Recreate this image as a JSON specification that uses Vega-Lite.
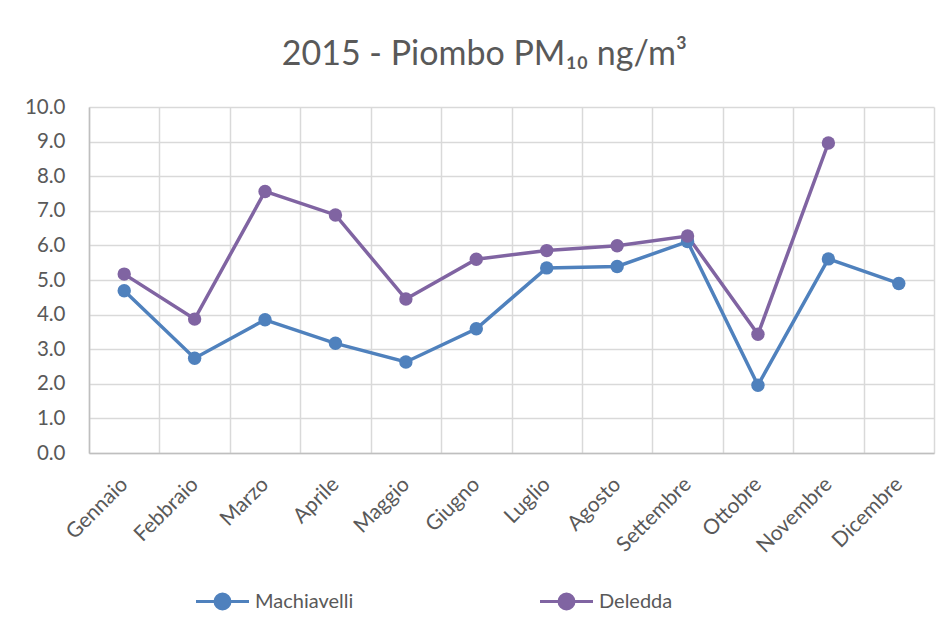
{
  "$schema": "https://vega.github.io/schema/vega-lite/v6.json",
  "autosize": {"type": "none"},
  "width": 845,
  "height": 346,
  "padding": {"left": 89, "top": 107, "right": 15, "bottom": 183},
  "background": "white",
  "title": {
    "text": "2015 - Piombo PM₁₀ ng/m³",
    "font": "Lato",
    "fontSize": 34,
    "fontWeight": "normal",
    "color": "#595959",
    "anchor": "middle",
    "dx": -27,
    "offset": 25
  },
  "data": {
    "values": [
      {"mese": "Gennaio", "serie": "Machiavelli", "valore": 4.69},
      {"mese": "Febbraio", "serie": "Machiavelli", "valore": 2.74},
      {"mese": "Marzo", "serie": "Machiavelli", "valore": 3.85},
      {"mese": "Aprile", "serie": "Machiavelli", "valore": 3.17},
      {"mese": "Maggio", "serie": "Machiavelli", "valore": 2.63},
      {"mese": "Giugno", "serie": "Machiavelli", "valore": 3.59},
      {"mese": "Luglio", "serie": "Machiavelli", "valore": 5.35},
      {"mese": "Agosto", "serie": "Machiavelli", "valore": 5.39},
      {"mese": "Settembre", "serie": "Machiavelli", "valore": 6.11},
      {"mese": "Ottobre", "serie": "Machiavelli", "valore": 1.96},
      {"mese": "Novembre", "serie": "Machiavelli", "valore": 5.61},
      {"mese": "Dicembre", "serie": "Machiavelli", "valore": 4.9},
      {"mese": "Gennaio", "serie": "Deledda", "valore": 5.17},
      {"mese": "Febbraio", "serie": "Deledda", "valore": 3.87},
      {"mese": "Marzo", "serie": "Deledda", "valore": 7.56},
      {"mese": "Aprile", "serie": "Deledda", "valore": 6.88},
      {"mese": "Maggio", "serie": "Deledda", "valore": 4.45},
      {"mese": "Giugno", "serie": "Deledda", "valore": 5.6},
      {"mese": "Luglio", "serie": "Deledda", "valore": 5.85},
      {"mese": "Agosto", "serie": "Deledda", "valore": 5.99},
      {"mese": "Settembre", "serie": "Deledda", "valore": 6.27},
      {"mese": "Ottobre", "serie": "Deledda", "valore": 3.43},
      {"mese": "Novembre", "serie": "Deledda", "valore": 8.96}
    ]
  },
  "encoding": {
    "x": {
      "field": "mese",
      "type": "nominal",
      "sort": ["Gennaio","Febbraio","Marzo","Aprile","Maggio","Giugno","Luglio","Agosto","Settembre","Ottobre","Novembre","Dicembre"],
      "scale": {"type": "band", "paddingInner": 0, "paddingOuter": 0},
      "axis": {
        "title": null,
        "tickBand": "extent",
        "ticks": false,
        "grid": true,
        "gridColor": "#D9D9D9",
        "gridWidth": 1.5,
        "domainColor": "#BFBFBF",
        "domainWidth": 1.5,
        "labelAngle": -45,
        "labelAlign": "right",
        "labelBaseline": "middle",
        "labelPadding": 28,
        "labelFont": "Lato",
        "labelFontSize": 21,
        "labelColor": "#595959"
      }
    },
    "y": {
      "field": "valore",
      "type": "quantitative",
      "scale": {"domain": [0, 10], "nice": false},
      "axis": {
        "title": null,
        "values": [0,1,2,3,4,5,6,7,8,9,10],
        "format": ".1f",
        "ticks": false,
        "grid": true,
        "gridColor": "#D9D9D9",
        "gridWidth": 1.5,
        "domainColor": "#BFBFBF",
        "domainWidth": 1.5,
        "labelPadding": 24,
        "labelFont": "Lato",
        "labelFontSize": 20.5,
        "labelColor": "#595959"
      }
    },
    "color": {
      "field": "serie",
      "type": "nominal",
      "sort": ["Machiavelli", "Deledda"],
      "scale": {"domain": ["Machiavelli", "Deledda"], "range": ["#4F81BD", "#8064A2"]},
      "legend": {
        "title": null,
        "orient": "none",
        "direction": "horizontal",
        "legendX": 122,
        "legendY": 483,
        "symbolType": "M -2.65 0 L 2.65 0 M 0.75 0 A 0.75 0.75 0 1 1 -0.75 0 A 0.75 0.75 0 1 1 0.75 0",
        "symbolSize": 400,
        "symbolStrokeWidth": 3,
        "labelFont": "Lato",
        "labelFontSize": 20,
        "labelColor": "#595959",
        "labelOffset": 21,
        "columnPadding": 180
      }
    }
  },
  "layer": [
    {"mark": {"type": "line", "strokeWidth": 3.5}},
    {"mark": {"type": "point", "filled": true, "opacity": 1, "size": 180}}
  ],
  "config": {
    "view": {"stroke": null}
  }
}
